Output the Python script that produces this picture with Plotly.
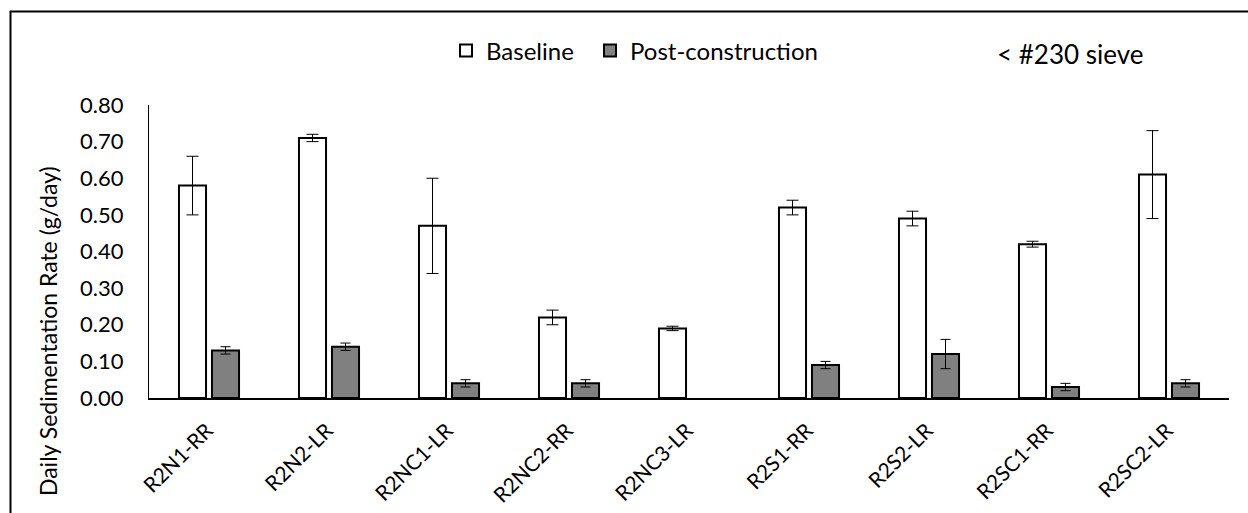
import plotly.graph_objects as go

categories = ["R2N1-RR", "R2N2-LR", "R2NC1-LR", "R2NC2-RR", "R2NC3-LR",
              "R2S1-RR", "R2S2-LR", "R2SC1-RR", "R2SC2-LR"]
baseline = [0.58, 0.71, 0.47, 0.22, 0.19, 0.52, 0.49, 0.42, 0.61]
baseline_err = [0.08, 0.01, 0.13, 0.02, 0.006, 0.02, 0.02, 0.008, 0.12]
post = [0.13, 0.14, 0.04, 0.04, None, 0.09, 0.12, 0.03, 0.04]
post_err = [0.01, 0.01, 0.01, 0.01, None, 0.01, 0.04, 0.01, 0.01]
y_ticks = [0.0, 0.1, 0.2, 0.3, 0.4, 0.5, 0.6, 0.7, 0.8]

FONT = "Lato, Carlito, sans-serif"
W, H = 1248, 513
ML, MR, MT, MB = 149, 19, 105, 115
PW, PH = W - ML - MR, H - MT - MB


def px_x(x):
    return (x - ML) / PW


def px_y(y):
    return (H - MB - y) / PH


fig = go.Figure()
fig.add_trace(go.Bar(
    x=categories, y=baseline, name="Baseline", legend="legend",
    marker=dict(color="white", line=dict(color="black", width=2)),
    error_y=dict(type="data", array=baseline_err, color="black", thickness=1, width=6),
))
fig.add_trace(go.Bar(
    x=categories, y=post, name="Post-construction", legend="legend2",
    marker=dict(color="#808080", line=dict(color="black", width=2)),
    error_y=dict(type="data", array=post_err, color="black", thickness=1, width=5),
))

legend_style = dict(orientation="h", y=px_y(51), xanchor="left", yanchor="middle",
                    font=dict(size=24, family=FONT), itemwidth=30,
                    bgcolor="rgba(0,0,0,0)")

fig.update_layout(
    width=W, height=H,
    margin=dict(l=ML, r=MR, t=MT, b=MB, pad=0, autoexpand=False),
    paper_bgcolor="white", plot_bgcolor="white",
    barmode="group", bargap=0.45, bargroupgap=0.18,
    font=dict(family=FONT, size=22, color="black"),
    showlegend=True,
    legend=dict(x=px_x(446), **legend_style),
    legend2=dict(x=px_x(590), **legend_style),
    xaxis=dict(showline=True, linecolor="black", linewidth=2, ticks="",
               tickangle=-45, tickfont=dict(size=21, family=FONT),
               showgrid=False, ticklabelstandoff=10, ticklabelshift=-2,
               automargin=False),
    yaxis=dict(range=[0, 0.8], tickvals=y_ticks, tickformat=".2f",
               showline=True, linecolor="black", linewidth=1, ticks="",
               showgrid=False, zeroline=False, automargin=False,
               tickfont=dict(size=22, family=FONT), ticklabelstandoff=20),
)

fig.add_annotation(text="Daily Sedimentation Rate (g/day)", textangle=-90,
                   xref="paper", yref="paper", x=px_x(48), y=px_y(331),
                   xanchor="center", yanchor="middle",
                   showarrow=False, font=dict(size=23, family=FONT))
fig.add_annotation(text="< #230 sieve", xref="paper", yref="paper",
                   x=px_x(995), y=px_y(54), xanchor="left", yanchor="middle",
                   showarrow=False, font=dict(size=26, family=FONT))

# outer chart frame (left and top edges visible)
fig.add_shape(type="line", xref="paper", yref="paper",
              x0=px_x(10.5), x1=px_x(10.5), y0=px_y(11), y1=px_y(520),
              line=dict(color="black", width=2))
fig.add_shape(type="line", xref="paper", yref="paper",
              x0=px_x(10), x1=px_x(1260), y0=px_y(11.5), y1=px_y(11.5),
              line=dict(color="black", width=2))

fig.write_html("out.html", config={"displayModeBar": False},
               post_script="document.body.style.margin='0';")
